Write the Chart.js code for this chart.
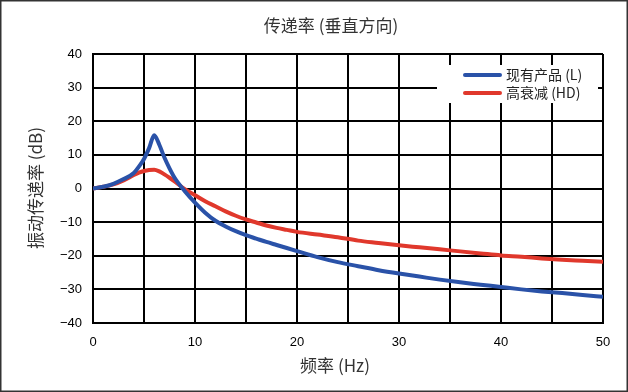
<!DOCTYPE html>
<html>
<head>
<meta charset="utf-8">
<script src="https://cdn.jsdelivr.net/npm/chart.js@4/dist/chart.umd.min.js"></script>
<style>
  html, body { margin: 0; padding: 0; background: #fff; }
  #wrap { width: 628px; height: 392px; }
</style>
</head>
<body>
<div id="wrap"><canvas id="chart" width="628" height="392"></canvas></div>
<script>
// values
const freq = [0, 1, 2, 3, 4, 4.5, 5, 5.5, 6, 6.5, 7, 7.5, 8, 9, 10, 11, 12, 13, 14, 15, 16, 17, 18, 19, 20,
  22, 24, 26, 28, 30, 32, 34, 36, 38, 40, 42, 44, 46, 48, 50]
const currentL = [0, 0.5, 1.4, 2.8, 4.6, 6.5, 8.8, 12, 15.8, 13, 9.2, 6, 3.2, -0.8, -4.2, -7.2, -9.6, -11.3, -12.7,
  -13.9, -14.9, -15.9, -16.8, -17.7, -18.6, -20.4, -21.9, -23.1, -24.3, -25.3, -26.2, -27.1, -27.9, -28.6,
  -29.3, -30, -30.6, -31.1, -31.7, -32.2]
const highHD = [0, 0.5, 1.2, 2.4, 4, 4.7, 5.2, 5.5, 5.6, 5.1, 4.2, 3.2, 2.1, -0.2, -2, -3.8, -5.3, -6.8, -8.1,
  -9.2, -10.1, -11, -11.7, -12.3, -12.9, -13.7, -14.5, -15.5, -16.2, -16.9, -17.5, -18.1, -18.7, -19.3,
  -19.9, -20.3, -20.8, -21.2, -21.5, -21.8]
const seriesNames = ['现有产品 (L)', '高衰减 (HD)']
const seriesColors = ['#2a52a8', '#e0382c']
const chartTitle = '传递率 (垂直方向)'
const xTitle = '频率 (Hz)'
const yTitle = '振动传递率 (dB)'

const cjk = '"Noto Sans CJK SC", "Noto Sans", sans-serif'

const toPoints = (ys) => freq.map((f, i) => ({ x: f, y: ys[i] }))

const decor = {
  id: 'decor',
  beforeDraw(chart) {
    const { ctx } = chart
    ctx.save()
    ctx.fillStyle = '#fff'
    ctx.fillRect(0, 0, chart.width, chart.height)
    ctx.restore()
  },
  afterDraw(chart) {
    const { ctx } = chart
    ctx.save()
    // titles
    ctx.fillStyle = '#333'
    ctx.font = `17px ${cjk}`
    ctx.textAlign = 'center'
    ctx.textBaseline = 'middle'
    ctx.fillText(chartTitle, 331, 26)
    ctx.fillText(xTitle, 335, 366)
    ctx.save()
    ctx.translate(36, 188)
    ctx.rotate(-Math.PI / 2)
    ctx.fillText(yTitle, 0, 0)
    ctx.restore()

    // legend box
    ctx.fillStyle = '#fff'
    ctx.fillRect(437, 65, 161, 38)
    chart.data.datasets.forEach((ds, i) => {
      const y = 75 + i * 18
      ctx.strokeStyle = ds.borderColor
      ctx.lineWidth = 4
      ctx.lineCap = 'round'
      ctx.beginPath()
      ctx.moveTo(465, y)
      ctx.lineTo(500, y)
      ctx.stroke()
      ctx.fillStyle = '#222'
      ctx.font = `14px ${cjk}`
      ctx.textAlign = 'left'
      ctx.fillText(ds.label, 506, y)
    })

    // outer frame
    ctx.strokeStyle = '#333'
    ctx.lineWidth = 1.5
    ctx.strokeRect(0.75, 0.75, chart.width - 1.5, chart.height - 1.5)
    ctx.restore()
  },
}

const minus = (v) => String(v).replace('-', '\u2212')

new Chart(document.getElementById('chart'), {
  type: 'line',
  data: {
    datasets: [
      { label: seriesNames[0], data: toPoints(currentL), borderColor: seriesColors[0] },
      { label: seriesNames[1], data: toPoints(highHD), borderColor: seriesColors[1] },
    ].map((ds) => ({
      ...ds,
      borderWidth: 4,
      pointRadius: 0,
      fill: false,
      cubicInterpolationMode: 'monotone',
    })),
  },
  options: {
    responsive: false,
    animation: false,
    events: [],
    layout: { padding: { left: 0, right: 25, top: 54, bottom: 0 } },
    plugins: {
      legend: { display: false },
      title: { display: false },
      tooltip: { enabled: false },
    },
    scales: {
      x: {
        type: 'linear',
        min: 0,
        max: 50,
        afterFit: (scale) => { scale.height = 69 },
        grid: { color: '#000', lineWidth: 2, drawTicks: false },
        border: { color: '#000', width: 2 },
        ticks: {
          stepSize: 5,
          autoSkip: false,
          maxRotation: 0,
          padding: 12,
          color: '#000',
          font: { family: '"Liberation Sans", Arial, sans-serif', size: 13 },
          callback: (v) => (v % 10 === 0 ? minus(v) : ''),
        },
      },
      y: {
        min: -40,
        max: 40,
        afterFit: (scale) => { scale.width = 93 },
        grid: { color: '#000', lineWidth: 2, drawTicks: false },
        border: { color: '#000', width: 2 },
        ticks: {
          stepSize: 10,
          padding: 11,
          color: '#000',
          font: { family: '"Liberation Sans", Arial, sans-serif', size: 13 },
          callback: (v) => minus(v),
        },
      },
    },
  },
  plugins: [decor],
})
</script>
</body>
</html>
